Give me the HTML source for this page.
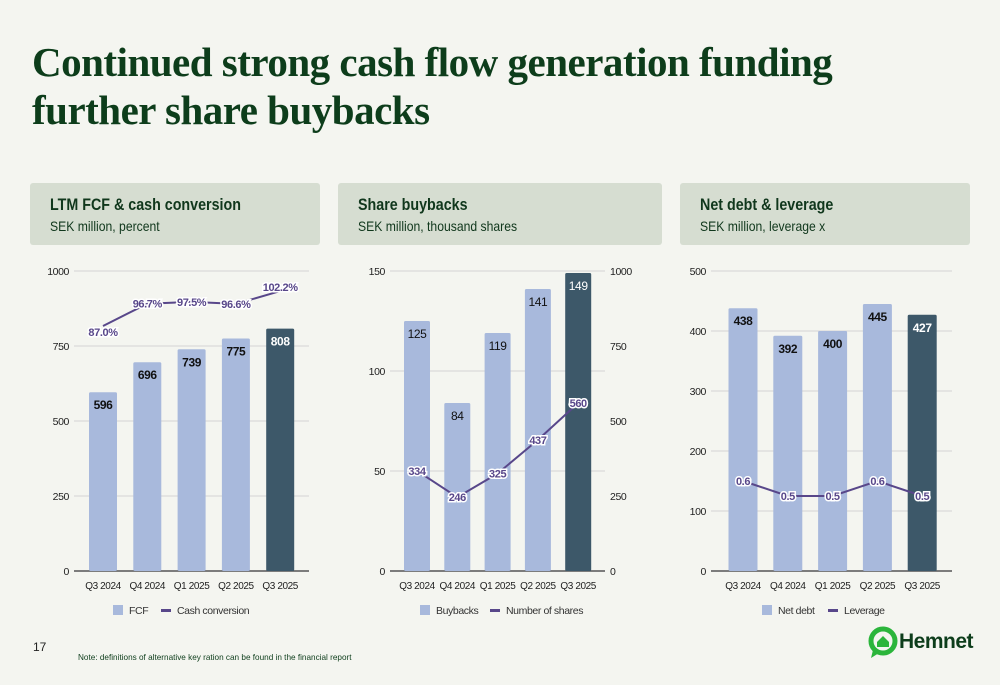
<!DOCTYPE html>
<html><head><meta charset="utf-8">
<style>
body{margin:0;width:1000px;height:685px;background:#f4f5f0;font-family:"Liberation Sans",sans-serif;overflow:hidden;position:relative}
h1{position:absolute;left:32px;top:38px;margin:0;font-family:"Liberation Serif",serif;font-weight:bold;font-size:41px;line-height:48px;color:#0d3d1b;letter-spacing:-0.5px}
.hdr{position:absolute;top:183px;height:62px;background:#d6ddd1;border-radius:3px}
.hdr b{position:absolute;left:20px;top:12px;font-size:17px;color:#10371c;transform:scaleX(0.84);transform-origin:left;white-space:nowrap}
.hdr span{position:absolute;left:20px;top:35px;font-size:14px;color:#10371c;transform:scaleX(0.87);transform-origin:left;white-space:nowrap}
svg text{letter-spacing:-0.4px}
svg{position:absolute;left:0;top:0}
</style></head><body>
<h1>Continued strong cash flow generation funding<br>further share buybacks</h1>
<div class="hdr" style="left:30px;width:290px"><b>LTM FCF &amp; cash conversion</b><span>SEK million, percent</span></div>
<div class="hdr" style="left:338px;width:324px"><b>Share buybacks</b><span>SEK million, thousand shares</span></div>
<div class="hdr" style="left:680px;width:290px"><b>Net debt &amp; leverage</b><span>SEK million, leverage x</span></div>
<svg id="c" width="1000" height="685"></svg>
<div style="position:absolute;left:33px;top:640px;font-size:12px;color:#222">17</div>
<div style="position:absolute;left:78px;top:653px;font-size:8.2px;color:#0d3d1b">Note: definitions of alternative key ration can be found in the financial report</div>
<div style="position:absolute;left:868px;top:626px;height:34px">
<svg width="30" height="34" style="position:absolute;left:0;top:0"><circle cx="15" cy="15" r="12" fill="none" stroke="#2bb53b" stroke-width="5"/><path d="M5 24 L3 32 L11 27Z" fill="#2bb53b"/><path d="M9 16 L15 10 L21 16 L21 21 L9 21Z" fill="#2bb53b"/></svg>
<span style="position:absolute;left:31px;top:4px;font-size:21px;font-weight:bold;color:#0d3d1b;letter-spacing:-0.5px">Hemnet</span></div>
<script>
const cats=["Q3 2024","Q4 2024","Q1 2025","Q2 2025","Q3 2025"];
const fcf=[596,696,739,775,808];
const conv=[87.0,96.7,97.5,96.6,102.2];
const fcfTicks=[0,250,500,750,1000];
const buy=[125,84,119,141,149];
const shares=[334,246,325,437,560];
const buyTicks=[0,50,100,150];
const shareTicks=[0,250,500,750,1000];
const debt=[438,392,400,445,427];
const lev=[0.6,0.5,0.5,0.6,0.5];
const debtTicks=[0,100,200,300,400,500];
const NS="http://www.w3.org/2000/svg";
const svg=document.getElementById('c');
function el(t,a,txt){const e=document.createElementNS(NS,t);for(const k in a)e.setAttribute(k,a[k]);if(txt!==undefined)e.textContent=txt;svg.appendChild(e);return e;}
const LIGHT="#a8b9dc",DARK="#3d5869",LINE="#58478a";
function chart(o){
  const y0=571,y1=271;
  const ys=v=>y0-(v/o.max)*(y0-y1);
  const xs=i=>o.x0+i*o.step;
  o.ticks.forEach(t=>{
    const g=el('line',{x1:o.gx0,x2:o.gx1,y1:ys(t),y2:ys(t),stroke:t===0?'#555':'#d3d3d3','stroke-width':t===0?1.5:1});
    
    const l=el('text',{x:o.gx0-5,y:ys(t)+4,'text-anchor':'end','font-size':10.5,fill:'#222'},t);
    
  });
  if(o.rticks){o.rticks.forEach(t=>{
    const l=el('text',{x:o.gx1+5,y:y0-(t/o.rmax)*(y0-y1)+4,'font-size':10.5,fill:'#222'},t);
    
  });}
  o.bars.forEach((v,i)=>{
    const last=i===o.bars.length-1;
    const r=el('rect',{x:xs(i)-o.bw/2,y:ys(v),width:o.bw,height:y0-ys(v),fill:last?DARK:LIGHT,rx:1.5});
    
    const t=el('text',{x:xs(i),y:ys(v)+o.lo,'text-anchor':'middle','font-size':12,'font-weight':o.bold?'bold':'normal',fill:last?'#fff':'#111'},v);
    
    const c=el('text',{x:xs(i),y:589,'text-anchor':'middle','font-size':10,fill:'#222'},cats[i]);
    
  });
  const ly=o.lineY;
  const pts=o.line.map((v,i)=>xs(i)+','+ly(v)).join(' ');
  const pl=el('polyline',{points:pts,fill:'none',stroke:LINE,'stroke-width':2});
  
  o.line.forEach((v,i)=>{
    const t=el('text',{x:xs(i),y:ly(v)+4+(o.ldy?o.ldy[i]:0),'text-anchor':'middle','font-size':11,'font-weight':'bold',fill:LINE,stroke:'#fff','stroke-width':3,'paint-order':'stroke'},o.fmt(v));
    
  });
  const lx=o.legX;
  const s=el('rect',{x:lx,y:605,width:10,height:10,fill:LIGHT});
  
  const a=el('text',{x:lx+16,y:614,'font-size':10.5,fill:'#333'},o.l1);
  
  const w=o.l1w;
  const s2=el('rect',{x:lx+16+w+10,y:609,width:10,height:3,fill:LINE});
  
  const b=el('text',{x:lx+16+w+26,y:614,'font-size':10.5,fill:'#333'},o.l2);
  
}
chart({x0:103,step:44.3,bw:28,gx0:74,gx1:309,max:1000,ticks:fcfTicks,bars:fcf,bold:true,lo:17,
  line:conv,lineY:v=>326-(v-87)*2.3,ldy:[6,0,0,0,-4],fmt:v=>v.toFixed(1)+'%',legX:113,l1:'FCF',l1w:22,l2:'Cash conversion'});
chart({x0:417,step:40.3,bw:26,gx0:390,gx1:605,max:150,ticks:buyTicks,rticks:shareTicks,rmax:1000,bars:buy,lo:17,
  line:shares,lineY:v=>571-v*0.3,fmt:v=>v,legX:420,l1:'Buybacks',l1w:44,l2:'Number of shares'});
chart({x0:743,step:44.8,bw:29,gx0:711,gx1:952,max:500,ticks:debtTicks,bars:debt,bold:true,lo:17,
  line:lev,lineY:v=>571-v*250*0.6,fmt:v=>v.toFixed(1),legX:762,l1:'Net debt',l1w:40,l2:'Leverage'});
</script>
</body></html>
